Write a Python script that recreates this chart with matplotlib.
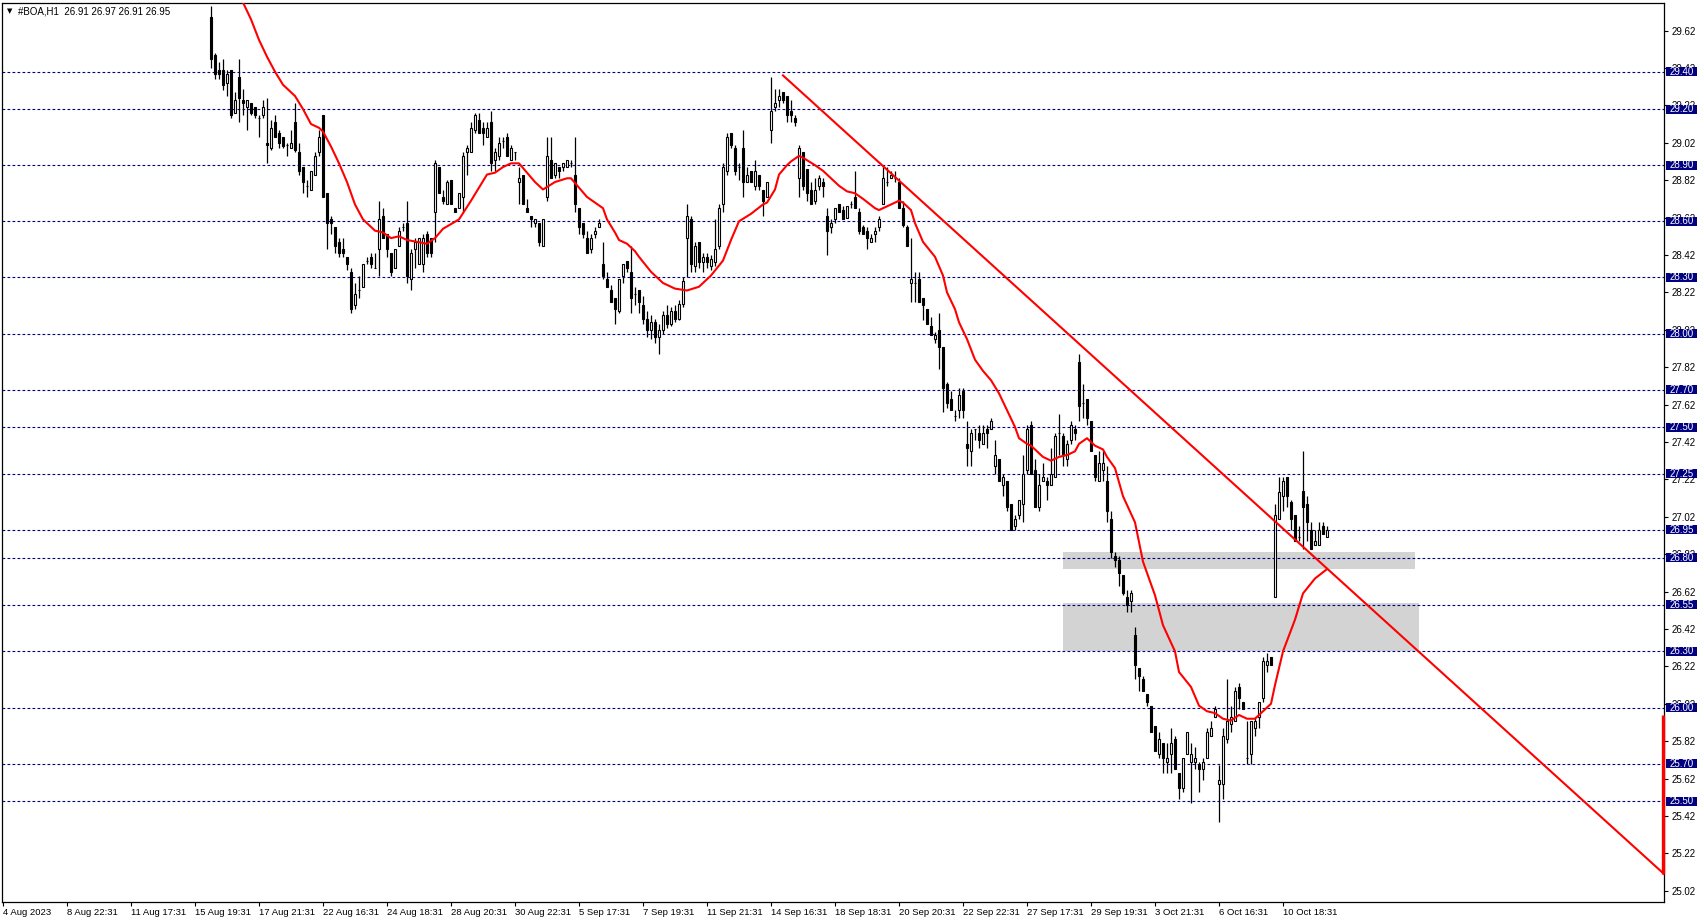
import matplotlib
matplotlib.use("Agg")
import matplotlib.pyplot as plt
import matplotlib.transforms as transforms
from matplotlib.patches import Rectangle
import numpy as np

plt.rcParams['font.family'] = ['Liberation Sans', 'DejaVu Sans']

title_text = "#BOA,H1  26.91 26.97 26.91 26.95"

# H1 candles, one per bar, oldest first
opens = [
    29.69, 29.49, 29.41, 29.41, 29.34, 29.41, 29.18, 29.37, 29.25, 29.21,
    29.23, 29.21, 29.15, 29.17, 29.02, 28.99, 29.13, 29.07, 29.05, 29.01,
    28.99, 29.13, 28.97, 28.89, 28.79, 28.77, 28.85, 28.97, 29.17, 28.75,
    28.61, 28.57, 28.49, 28.45, 28.41, 28.33, 28.15, 28.23, 28.25, 28.39,
    28.41, 28.35, 28.45, 28.63, 28.53, 28.43, 28.35, 28.47, 28.57, 28.59,
    28.29, 28.45, 28.37, 28.37, 28.53, 28.51, 28.65, 28.89, 28.73, 28.69,
    28.82, 28.67, 28.67, 28.73, 28.97, 28.97, 29.09, 29.14, 29.10, 29.05,
    29.13, 28.93, 28.95, 29.03, 29.05, 28.93, 28.97, 28.81, 28.85, 28.67,
    28.63, 28.59, 28.59, 28.47, 28.73, 28.93, 28.85, 28.89, 28.89, 28.89,
    28.91, 28.85, 28.67, 28.59, 28.51, 28.45, 28.53, 28.57, 28.37, 28.29,
    28.23, 28.19, 28.12, 28.31, 28.39, 28.33, 28.21, 28.23, 28.15, 28.08,
    28.02, 28.06, 27.98, 28.02, 28.10, 28.05, 28.12, 28.08, 28.16, 28.51,
    28.61, 28.36, 28.49, 28.38, 28.41, 28.36, 28.38, 28.47, 28.69, 28.87,
    29.07, 28.99, 28.89, 28.99, 28.81, 28.87, 28.79, 28.85, 28.77, 28.73,
    29.09, 29.21, 29.25, 29.29, 29.27, 29.19, 29.15, 28.83, 28.97, 28.88,
    28.77, 28.71, 28.79, 28.81, 28.63, 28.57, 28.61, 28.69, 28.66, 28.62,
    28.69, 28.73, 28.65, 28.57, 28.55, 28.49, 28.53, 28.57, 28.69, 28.81,
    28.83, 28.83, 28.81, 28.67, 28.57, 28.27, 28.27, 28.29, 28.19, 28.13,
    28.04, 27.97, 28.02, 27.93, 27.73, 27.65, 27.56, 27.59, 27.69, 27.41,
    27.37, 27.49, 27.47, 27.41, 27.49, 27.49, 27.29, 27.33, 27.19, 27.21,
    27.09, 26.97, 27.03, 27.09, 27.27, 27.51, 27.27, 27.07, 27.21, 27.21,
    27.19, 27.23, 27.47, 27.45, 27.33, 27.43, 27.49, 27.85, 27.63, 27.65,
    27.53, 27.35, 27.21, 27.27, 27.21, 27.01, 26.81, 26.79, 26.71, 26.59,
    26.57, 26.39, 26.21, 26.15, 26.07, 26.01, 25.90, 25.75, 25.81, 25.71,
    25.75, 25.83, 25.65, 25.57, 25.75, 25.71, 25.71, 25.70, 25.67, 25.73,
    25.85, 25.95, 25.59, 25.59, 25.83, 25.91, 25.93, 26.11, 26.03, 25.73,
    25.75, 25.89, 25.95, 26.05, 26.23, 26.27, 26.59, 27.01, 27.13, 27.23,
    27.10, 27.03, 26.91, 27.16, 27.09, 26.95, 26.87, 26.87, 26.97, 26.91,
]
highs = [
    29.75, 29.50, 29.45, 29.47, 29.41, 29.41, 29.29, 29.47, 29.31, 29.25,
    29.23, 29.21, 29.17, 29.25, 29.26, 29.14, 29.17, 29.09, 29.05, 29.02,
    29.09, 29.23, 29.02, 28.89, 28.82, 28.87, 28.97, 29.09, 29.17, 28.75,
    28.63, 28.57, 28.51, 28.51, 28.41, 28.35, 28.27, 28.31, 28.37, 28.41,
    28.43, 28.43, 28.71, 28.67, 28.53, 28.43, 28.45, 28.57, 28.59, 28.71,
    28.45, 28.51, 28.51, 28.53, 28.55, 28.51, 28.93, 28.89, 28.77, 28.82,
    28.82, 28.67, 28.75, 28.97, 29.01, 29.13, 29.18, 29.18, 29.13, 29.13,
    29.19, 28.99, 29.05, 29.05, 29.07, 29.01, 28.97, 28.89, 28.85, 28.72,
    28.63, 28.61, 28.59, 28.61, 29.05, 29.05, 28.91, 28.89, 28.91, 28.93,
    28.93, 29.05, 28.67, 28.59, 28.55, 28.53, 28.57, 28.61, 28.49, 28.33,
    28.26, 28.19, 28.29, 28.37, 28.39, 28.47, 28.25, 28.23, 28.20, 28.12,
    28.10, 28.08, 28.05, 28.12, 28.15, 28.14, 28.15, 28.18, 28.30, 28.69,
    28.63, 28.49, 28.49, 28.43, 28.43, 28.42, 28.61, 28.69, 28.91, 29.07,
    29.07, 29.01, 28.91, 29.09, 28.89, 28.87, 28.93, 28.85, 28.77, 28.81,
    29.37, 29.31, 29.31, 29.29, 29.27, 29.25, 29.17, 29.01, 28.97, 28.88,
    28.81, 28.83, 28.85, 28.83, 28.67, 28.61, 28.67, 28.69, 28.68, 28.68,
    28.71, 28.87, 28.67, 28.58, 28.57, 28.53, 28.57, 28.63, 28.89, 28.89,
    28.87, 28.87, 28.83, 28.71, 28.58, 28.51, 28.33, 28.33, 28.19, 28.13,
    28.09, 28.01, 28.11, 27.93, 27.74, 27.69, 27.59, 27.71, 27.71, 27.53,
    27.49, 27.49, 27.51, 27.51, 27.51, 27.55, 27.43, 27.33, 27.25, 27.21,
    27.09, 27.03, 27.11, 27.35, 27.51, 27.53, 27.33, 27.25, 27.31, 27.23,
    27.39, 27.47, 27.57, 27.47, 27.43, 27.53, 27.51, 27.89, 27.73, 27.65,
    27.53, 27.35, 27.37, 27.37, 27.29, 27.05, 26.83, 26.81, 26.71, 26.63,
    26.63, 26.43, 26.21, 26.17, 26.07, 26.01, 25.90, 25.87, 25.81, 25.81,
    25.89, 25.85, 25.65, 25.73, 25.87, 25.81, 25.79, 25.71, 25.73, 25.89,
    25.93, 26.01, 25.69, 25.89, 26.15, 26.01, 26.11, 26.13, 26.03, 25.93,
    25.93, 25.95, 26.03, 26.27, 26.29, 26.27, 27.09, 27.23, 27.23, 27.23,
    27.11, 27.03, 26.97, 27.37, 27.13, 26.99, 26.95, 26.99, 26.99, 26.97,
]
lows = [
    29.42, 29.36, 29.36, 29.30, 29.27, 29.15, 29.18, 29.13, 29.17, 29.09,
    29.17, 29.15, 29.05, 29.15, 28.91, 28.98, 29.05, 28.99, 28.99, 28.95,
    28.99, 28.97, 28.85, 28.75, 28.73, 28.77, 28.85, 28.95, 28.73, 28.45,
    28.53, 28.43, 28.41, 28.41, 28.34, 28.11, 28.13, 28.19, 28.25, 28.37,
    28.35, 28.35, 28.31, 28.51, 28.41, 28.31, 28.35, 28.47, 28.55, 28.27,
    28.23, 28.35, 28.37, 28.33, 28.41, 28.41, 28.49, 28.75, 28.69, 28.69,
    28.69, 28.65, 28.67, 28.65, 28.85, 28.97, 29.07, 29.07, 29.01, 29.05,
    28.87, 28.87, 28.93, 28.99, 28.95, 28.93, 28.93, 28.69, 28.69, 28.65,
    28.57, 28.57, 28.47, 28.47, 28.71, 28.83, 28.83, 28.83, 28.87, 28.89,
    28.89, 28.65, 28.53, 28.51, 28.43, 28.43, 28.51, 28.57, 28.29, 28.25,
    28.17, 28.05, 28.11, 28.27, 28.33, 28.11, 28.15, 28.11, 28.05, 27.98,
    27.97, 27.95, 27.89, 28.00, 28.03, 28.04, 28.06, 28.07, 28.14, 28.30,
    28.33, 28.33, 28.35, 28.33, 28.35, 28.34, 28.36, 28.45, 28.65, 28.85,
    28.99, 28.85, 28.82, 28.73, 28.81, 28.81, 28.77, 28.77, 28.63, 28.73,
    29.02, 29.19, 29.21, 29.23, 29.13, 29.13, 29.11, 28.73, 28.77, 28.71,
    28.69, 28.69, 28.77, 28.73, 28.42, 28.54, 28.59, 28.65, 28.61, 28.62,
    28.67, 28.67, 28.53, 28.53, 28.45, 28.49, 28.49, 28.55, 28.69, 28.79,
    28.83, 28.81, 28.67, 28.57, 28.47, 28.17, 28.17, 28.17, 28.07, 28.05,
    27.99, 27.95, 27.81, 27.58, 27.60, 27.59, 27.53, 27.55, 27.55, 27.29,
    27.29, 27.43, 27.39, 27.41, 27.39, 27.49, 27.25, 27.21, 27.13, 27.05,
    26.95, 26.95, 27.01, 26.99, 27.25, 27.25, 27.07, 27.05, 27.21, 27.11,
    27.19, 27.23, 27.35, 27.29, 27.29, 27.41, 27.43, 27.53, 27.55, 27.51,
    27.37, 27.21, 27.21, 27.21, 26.99, 26.80, 26.75, 26.65, 26.60, 26.51,
    26.51, 26.15, 26.09, 26.09, 26.01, 25.87, 25.77, 25.73, 25.65, 25.65,
    25.65, 25.67, 25.51, 25.55, 25.75, 25.49, 25.67, 25.55, 25.61, 25.73,
    25.85, 25.95, 25.39, 25.51, 25.81, 25.87, 25.93, 25.99, 25.99, 25.70,
    25.70, 25.85, 25.89, 26.03, 26.19, 26.23, 26.59, 27.01, 27.05, 27.07,
    26.95, 26.89, 26.89, 26.85, 26.89, 26.85, 26.87, 26.87, 26.93, 26.91,
]
closes = [
    29.47, 29.39, 29.39, 29.33, 29.39, 29.17, 29.25, 29.26, 29.23, 29.25,
    29.18, 29.17, 29.15, 29.21, 29.01, 29.10, 29.05, 29.02, 29.00, 29.01,
    29.02, 28.98, 28.87, 28.81, 28.79, 28.87, 28.95, 29.05, 28.73, 28.59,
    28.59, 28.47, 28.43, 28.43, 28.37, 28.13, 28.21, 28.23, 28.37, 28.39,
    28.37, 28.35, 28.61, 28.51, 28.45, 28.33, 28.45, 28.55, 28.57, 28.31,
    28.43, 28.49, 28.51, 28.51, 28.43, 28.43, 28.91, 28.75, 28.71, 28.81,
    28.69, 28.65, 28.75, 28.95, 28.99, 29.10, 29.17, 29.07, 29.07, 29.10,
    28.91, 28.97, 29.02, 29.03, 28.95, 28.99, 28.97, 28.83, 28.69, 28.65,
    28.61, 28.61, 28.49, 28.61, 28.95, 28.83, 28.91, 28.87, 28.91, 28.93,
    28.91, 28.69, 28.57, 28.53, 28.43, 28.51, 28.55, 28.59, 28.31, 28.25,
    28.17, 28.13, 28.29, 28.37, 28.35, 28.19, 28.21, 28.17, 28.08, 28.02,
    28.06, 27.98, 28.02, 28.10, 28.05, 28.12, 28.08, 28.16, 28.28, 28.63,
    28.37, 28.47, 28.38, 28.41, 28.38, 28.40, 28.45, 28.67, 28.89, 29.05,
    29.01, 28.87, 28.89, 28.81, 28.85, 28.81, 28.87, 28.79, 28.71, 28.81,
    29.19, 29.23, 29.27, 29.25, 29.17, 29.17, 29.13, 28.99, 28.79, 28.75,
    28.69, 28.77, 28.83, 28.79, 28.55, 28.59, 28.67, 28.65, 28.61, 28.68,
    28.69, 28.67, 28.55, 28.53, 28.51, 28.51, 28.55, 28.61, 28.83, 28.81,
    28.85, 28.83, 28.67, 28.58, 28.47, 28.29, 28.27, 28.17, 28.15, 28.05,
    27.99, 27.99, 27.93, 27.71, 27.63, 27.59, 27.56, 27.67, 27.59, 27.39,
    27.47, 27.49, 27.43, 27.47, 27.47, 27.53, 27.35, 27.21, 27.23, 27.07,
    26.95, 27.01, 27.11, 27.25, 27.49, 27.25, 27.07, 27.19, 27.23, 27.19,
    27.25, 27.45, 27.47, 27.35, 27.41, 27.51, 27.47, 27.61, 27.63, 27.55,
    27.37, 27.23, 27.31, 27.31, 27.05, 26.83, 26.79, 26.72, 26.61, 26.55,
    26.61, 26.23, 26.17, 26.09, 26.03, 25.87, 25.77, 25.83, 25.73, 25.73,
    25.81, 25.67, 25.57, 25.73, 25.87, 25.75, 25.73, 25.67, 25.71, 25.87,
    25.89, 25.99, 25.61, 25.85, 25.93, 25.95, 26.09, 26.05, 25.99, 25.73,
    25.93, 25.93, 26.03, 26.25, 26.25, 26.23, 27.03, 27.15, 27.21, 27.13,
    27.01, 26.89, 26.91, 27.07, 26.99, 26.85, 26.89, 26.95, 26.93, 26.95,
]

# moving average (bar index, price)
ma_bars = [
    7, 8, 10, 12, 14, 16, 18, 21, 23, 25, 27, 28, 30, 32, 34, 36, 38, 41, 43, 45,
    47, 49, 54, 56, 58, 62, 65, 67, 69, 71, 73, 75, 77, 79, 81, 83, 86, 89, 90, 92,
    94, 96, 98, 99, 101, 102, 104, 106, 107, 110, 113, 116, 119, 122, 125, 128, 130, 132, 135, 138,
    139, 141, 142, 144, 145, 147, 148, 151, 153, 155, 157, 159, 161, 163, 166, 167, 168, 171, 172, 173,
    175, 176, 178, 181, 183, 184, 186, 187, 189, 191, 193, 195, 197, 199, 201, 202, 204, 205, 207, 208,
    210, 212, 214, 216, 217, 219, 221, 223, 224, 226, 228, 231, 233, 236, 238, 241, 242, 245, 247, 249,
    251, 253, 255, 257, 259, 261, 263, 265, 266, 268, 271, 273, 276, 279,
]
ma_values = [
    29.82, 29.77, 29.68, 29.57, 29.48, 29.40, 29.33, 29.27, 29.20, 29.12, 29.10, 29.08, 29.00, 28.91, 28.81, 28.69, 28.61, 28.55, 28.54, 28.51,
    28.52, 28.50, 28.48, 28.51, 28.56, 28.61, 28.71, 28.78, 28.85, 28.86, 28.89, 28.91, 28.91, 28.86, 28.81, 28.77, 28.81, 28.83, 28.83, 28.78,
    28.73, 28.70, 28.67, 28.61, 28.54, 28.50, 28.48, 28.44, 28.41, 28.33, 28.27, 28.24, 28.23, 28.25, 28.31, 28.39, 28.50, 28.60, 28.64, 28.69,
    28.70, 28.77, 28.85, 28.90, 28.92, 28.95, 28.94, 28.90, 28.87, 28.83, 28.79, 28.76, 28.75, 28.72, 28.67, 28.66, 28.67, 28.70, 28.71, 28.70,
    28.66, 28.59, 28.49, 28.41, 28.31, 28.22, 28.13, 28.06, 27.97, 27.86, 27.80, 27.75, 27.68, 27.59, 27.50, 27.44, 27.41, 27.40, 27.36, 27.34,
    27.32, 27.34, 27.35, 27.37, 27.41, 27.44, 27.40, 27.38, 27.34, 27.28, 27.13, 26.99, 26.78, 26.60, 26.44, 26.30, 26.19, 26.11, 26.01, 25.98,
    25.97, 25.94, 25.93, 25.96, 25.94, 25.94, 25.98, 26.02, 26.12, 26.30, 26.47, 26.61, 26.69, 26.74,
]

# trend line drawn from the 14 Sep high out to the right edge
trend_bars = [143, 363.25]
trend_prices = [29.38, 25.11]

# horizontal levels (blue dashed lines with price boxes)
level_prices = [29.40, 29.20, 28.90, 28.60, 28.30, 28.00, 27.70, 27.50,
                27.25, 26.95, 26.80, 26.55, 26.30, 26.00, 25.70, 25.50]

# grey zones: first bar, last bar, low, high
zone_start = [213, 213]
zone_end = [301, 302]
zone_low = [26.74, 26.30]
zone_high = [26.83, 26.56]

# red marker on the price scale
edge_mark_prices = [25.96, 25.11]

# time scale: one label every 16 bars, first one 52 bars before the first candle
date_labels = ["4 Aug 2023", "8 Aug 22:31", "11 Aug 17:31", "15 Aug 19:31", "17 Aug 21:31",
               "22 Aug 16:31", "24 Aug 18:31", "28 Aug 20:31", "30 Aug 22:31", "5 Sep 17:31",
               "7 Sep 19:31", "11 Sep 21:31", "14 Sep 16:31", "18 Sep 18:31", "20 Sep 20:31",
               "22 Sep 22:31", "27 Sep 17:31", "29 Sep 19:31", "3 Oct 21:31", "6 Oct 16:31",
               "10 Oct 18:31"]
first_label_bar = -52
label_step = 16

price_ticks = [25.02, 25.22, 25.42, 25.62, 25.82, 26.02, 26.22, 26.42, 26.62, 26.82, 27.02, 27.22,
               27.42, 27.62, 27.82, 28.02, 28.22, 28.42, 28.62, 28.82, 29.02, 29.22, 29.42, 29.62]


def main():
    W, H = 1704, 923
    fig = plt.figure(figsize=(W / 100, H / 100), dpi=100)
    ax = fig.add_axes([2 / W, 1 - 902 / H, 1662 / W, 899.5 / H])
    x0, x1 = -52.25, 363.25
    y0, y1 = 24.96, 29.77
    ax.set_xlim(x0, x1)
    ax.set_ylim(y0, y1)

    o = np.array(opens)
    h = np.array(highs)
    l = np.array(lows)
    c = np.array(closes)
    idx = np.arange(len(o))

    # zones
    for b0, b1, lo, hi in zip(zone_start, zone_end, zone_low, zone_high):
        ax.add_patch(Rectangle((b0, lo), b1 - b0, hi - lo, facecolor='#d3d3d3',
                               edgecolor='none', zorder=1))

    # level lines
    for p in level_prices:
        ax.axhline(p, color='#000080', lw=0.8, dashes=(2.5, 2.0), zorder=2)

    # candles
    ax.vlines(idx, l, h, color='black', lw=0.9, zorder=3)
    up = c >= o
    bottom = np.minimum(o, c)
    height = np.abs(c - o)
    ax.bar(idx[up], height[up], bottom=bottom[up], width=0.5, color='white',
           edgecolor='black', linewidth=0.8, zorder=4)
    ax.bar(idx[~up], height[~up], bottom=bottom[~up], width=0.5, color='black',
           edgecolor='black', linewidth=0.8, zorder=4)

    # moving average and trend line
    ax.plot(ma_bars, ma_values, color='#ff0000', lw=1.5, zorder=5)
    ax.plot(trend_bars, trend_prices, color='#ff0000', lw=1.5, zorder=5)
    ax.plot([x1 - 0.35, x1 - 0.35], edge_mark_prices, color='#ff0000', lw=2.4,
            solid_capstyle='butt', clip_on=False, zorder=6)

    # axes styling
    for s in ax.spines.values():
        s.set_color('black')
        s.set_linewidth(0.9)
    ax.yaxis.tick_right()
    ax.set_yticks(price_ticks)
    ax.set_yticklabels([f"{v:.2f}" for v in price_ticks])
    ax.tick_params(axis='y', length=3, width=0.8, pad=2.5, labelsize=7)

    label_bars = [first_label_bar + label_step * k for k in range(len(date_labels))]
    ax.set_xticks(label_bars)
    ax.set_xticklabels(date_labels, ha='left')
    ax.tick_params(axis='x', length=3, width=0.8, pad=1.5, labelsize=6.8)

    # price boxes on the scale
    px_per_unit = ax.bbox.height / (y1 - y0)
    box_h = 9 / px_per_unit
    ax_w = ax.bbox.width
    trans = transforms.blended_transform_factory(ax.transAxes, ax.transData)
    for p in level_prices:
        ax.add_patch(Rectangle((1 + 2 / ax_w, p - box_h / 2), 31 / ax_w, box_h,
                               facecolor='#000080', edgecolor='none', transform=trans,
                               clip_on=False, zorder=10))
        ax.text(1 + 17.5 / ax_w, p, f"{p:.2f}", color='white', fontsize=7,
                ha='center', va='center', transform=trans, clip_on=False, zorder=11)

    # header
    fig.text(7 / W, 1 - 11 / H, "\u25bc", fontsize=5, va='center', ha='left',
             family=['DejaVu Sans'])
    fig.text(18 / W, 1 - 11 / H, title_text, fontsize=7, va='center', ha='left')

    fig.savefig("out.png", dpi=100)


if __name__ == "__main__":
    main()
